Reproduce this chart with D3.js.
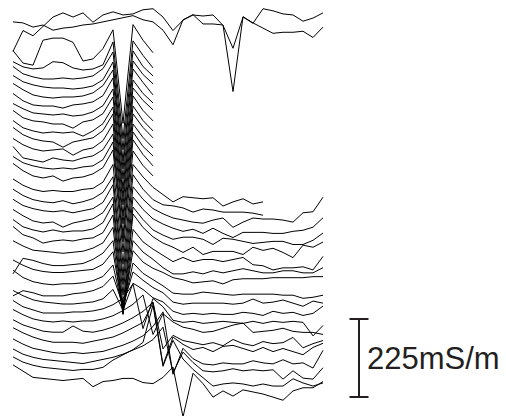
<!DOCTYPE html>
<html lang="en">
  <head>
    <meta charset="utf-8">
    <title>Stacked conductivity profiles</title>
    <script type="text/javascript" src="https://cdn.jsdelivr.net/npm/d3@7/dist/d3.min.js"></script>
    <style>
    body { margin: 0; background: #fff; }
    .trace { fill: none; stroke: #000; stroke-width: 1; }
    .bar { stroke: #231f20; stroke-width: 2; }
    .bar-label { font-family: "Liberation Sans", Arial, sans-serif; font-size: 31px; fill: #231f20; }
    </style>
  </head>
  <body>
    <div id="chart"></div>
    <script type="text/javascript">

      // stations along every profile (m)
      var stations = [0,1,2,3,4,5,6,7,8,9,10,11,12,13,14,15,16,17,18,19,20,21,22,23,24,25,26,27,28,29,30,31];

      // readings are mS/m relative to each profile's background level
      // two long profiles at the top of the grid
      var topPos = [0, 2];
      var topReadings = [
        [-102,-42,-57,-30,-3,9,-3,9,-18,3,12,3,6,18,21,-3,-42,-12,3,0,3,-27,-93,-3,-21,21,15,6,3,-15,-6,9],
        [9,6,-6,0,-15,-9,-6,0,3,9,15,21,27,15,9,-15,-57,15,30,3,3,0,-192,24,6,-9,-24,-21,-21,-18,-36,-6]
      ];

      // profiles that stop just past the anomaly
      var shortPos = [10, 12, 14, 16, 18, 20, 22, 24, 26, 28, 30, 32, 34, 36];
      var shortReadings = [
        [30,-6,-12,60,66,66,54,0,6,36,90,-180,105,60,24],
        [24,9,3,6,24,21,6,0,3,15,81,-198,84,42,6],
        [36,15,6,0,0,3,0,3,9,30,78,-204,81,36,9],
        [36,18,9,3,0,0,-3,0,6,24,75,-210,78,39,12],
        [39,21,6,0,-3,0,0,3,12,33,78,-207,81,42,6],
        [36,15,3,0,0,-6,3,6,12,30,81,-210,75,36,9],
        [33,18,6,3,0,3,-3,0,9,27,75,-213,78,42,15],
        [39,18,9,6,0,0,-12,6,12,30,78,-210,81,39,9],
        [36,15,6,0,3,0,3,-9,6,27,75,-207,78,36,6],
        [42,21,9,3,0,-15,0,6,12,33,81,-213,81,42,12],
        [36,18,6,0,3,6,-12,3,9,30,78,-210,78,39,9],
        [39,6,0,-6,6,0,-3,6,12,30,75,-216,81,39,12],
        [36,18,9,3,0,3,0,6,9,27,78,-210,84,42,9],
        [42,21,6,0,6,-9,0,3,12,30,81,-213,78,36,6]
      ];

      // two profiles that stop half way
      var halfPos = [39, 41.5];
      var halfReadings = [
        [36,18,6,0,3,0,0,6,9,27,78,-210,78,42,12,-9,-30,-15,-18,-21,-18,-42,-30,-21,-36,-30],
        [39,21,9,3,0,6,-3,3,12,30,75,-210,81,39,9,-6,-9,-15,-27,-18,-21,-27,-27,-27,-30,-36]
      ];

      // full-length profiles in the lower part of the grid
      var fullPos = [43.5, 46, 48, 50, 52.5, 55, 57, 59.5, 61.5, 64, 66, 68, 70.5, 72.5, 75, 77, 79, 81];
      var fullReadings = [
        [36,18,9,3,0,3,-3,3,9,27,78,-210,72,36,9,-6,-18,-24,-30,-33,-24,-18,-45,-30,-18,-21,-21,-24,-30,-3,0,42],
        [39,21,6,0,3,-12,0,6,12,30,75,-207,75,39,12,-3,-15,-24,-18,-30,-15,-30,-42,-27,-27,-27,-30,-30,-24,-21,-12,15],
        [36,15,6,0,6,0,3,3,9,27,81,-213,72,36,6,-9,-21,-15,-15,-21,-36,-18,-21,-27,-33,-30,-27,-27,-36,-36,-24,-3],
        [42,18,9,-6,0,3,0,6,9,24,75,-210,78,39,12,-6,-18,-33,-18,-39,-30,-30,-30,-39,-18,-27,-21,-33,-48,-12,-18,-3],
        [33,18,6,3,0,-3,0,3,12,27,72,-177,66,30,9,-9,-27,-15,-27,-21,-21,-27,-21,-15,-36,-39,-51,-45,-45,-42,-51,-12],
        [-30,15,9,0,-6,-6,-3,0,12,30,66,-147,66,33,12,-12,-30,-30,-24,-30,-21,-27,-21,-15,-21,-27,-27,-21,-21,-27,-27,-12],
        [36,21,9,3,0,0,3,6,9,24,60,-111,63,30,12,0,-15,-21,-30,-27,-24,-33,-21,-18,-18,-18,-15,-15,-15,-15,-12,-12],
        [39,18,6,0,-3,0,0,3,9,21,54,-75,60,30,12,-6,-27,-30,-30,-24,-27,-30,-33,-30,-30,-30,-30,-33,-33,-42,-39,-33],
        [-9,6,0,-9,-9,-9,-3,0,6,18,48,-36,60,36,15,0,-27,-33,-30,-30,-30,-30,-33,-30,-18,-30,-27,-21,-30,-39,-24,-30],
        [39,24,12,6,3,0,0,3,6,15,42,-18,60,42,18,6,-21,-30,-27,-30,-27,-30,-30,-24,-27,-33,-21,-27,-24,-33,-27,-6],
        [36,18,9,0,0,0,3,3,6,12,24,42,84,-45,42,18,-21,-27,-24,-30,-27,-24,-27,-30,-24,-30,-24,-27,-24,-27,-66,-36],
        [36,21,9,3,0,3,0,3,3,9,18,33,51,78,-36,24,0,-15,-21,-30,-27,-18,-9,-3,-30,-27,-24,-18,-27,-30,-30,-36],
        [39,24,15,6,3,3,21,6,3,9,18,30,45,63,90,-45,-6,-21,-27,-33,-27,-36,-18,-30,-36,-24,-30,-27,-12,-42,-30,-21],
        [42,27,15,6,0,0,0,-3,3,9,15,27,42,57,114,-66,15,-6,-21,-15,-27,-12,-9,-18,-27,-15,-27,-18,-27,-36,-15,-3],
        [42,27,15,9,3,0,3,0,3,6,15,24,36,51,78,120,-60,15,-15,-30,-33,-27,-30,-30,-21,-27,-30,-18,-30,-27,-42,9],
        [39,24,15,9,6,3,0,-3,3,9,15,24,36,48,66,102,-30,30,0,-24,-27,-24,-18,-24,-21,-24,-21,-48,-24,-45,-48,-15],
        [42,27,18,12,9,6,3,6,6,12,33,48,63,84,192,15,90,36,6,-18,-42,-36,-33,-36,-42,-36,-42,-42,-21,-33,-42,-33],
        [45,27,9,6,3,0,3,6,-18,-3,0,6,6,-6,-9,9,39,-105,21,-9,-48,-30,-45,-27,-33,-39,-48,-57,-30,-21,-21,-3]
      ];

      var barValue = 225;
      var barLabel = "225mS/m";

      var width = 506, height = 416;

      var svg = d3.select("#chart").append("svg")
          .attr("width", width)
          .attr("height", height);

      var x = d3.scaleLinear()
          .domain([0, 31])
          .range([13, 323]);

      // profile position -> baseline
      var yLine = d3.scaleLinear()
          .domain([0, 81])
          .range([16, 380.5]);

      // mS/m -> pixels (same scale as the bar)
      var yVal = d3.scaleLinear()
          .domain([0, barValue])
          .range([0, 78]);

      var groups = [
        {pos: topPos, readings: topReadings},
        {pos: shortPos, readings: shortReadings},
        {pos: halfPos, readings: halfReadings},
        {pos: fullPos, readings: fullReadings}
      ];

      groups.forEach(function(g) {
        g.readings.forEach(function(r, i) {
          var base = yLine(g.pos[i]);
          var line = d3.line()
              .x(function(d, j) { return x(stations[j]); })
              .y(function(d) { return base - yVal(d); });
          svg.append("path")
              .attr("class", "trace")
              .attr("d", line(r));
        });
      });

      // scale bar
      var barX = 359, barTop = 319, cap = 9.5;
      var bar = svg.append("g");
      bar.append("line").attr("class", "bar")
          .attr("x1", barX).attr("x2", barX)
          .attr("y1", barTop).attr("y2", barTop + yVal(barValue));
      bar.append("line").attr("class", "bar")
          .attr("x1", barX - cap).attr("x2", barX + cap)
          .attr("y1", barTop).attr("y2", barTop);
      bar.append("line").attr("class", "bar")
          .attr("x1", barX - cap).attr("x2", barX + cap)
          .attr("y1", barTop + yVal(barValue)).attr("y2", barTop + yVal(barValue));
      bar.append("text").attr("class", "bar-label")
          .attr("x", barX + 8)
          .attr("y", barTop + yVal(barValue) / 2 + 11)
          .text(barLabel);

    </script>
  </body>
</html>
